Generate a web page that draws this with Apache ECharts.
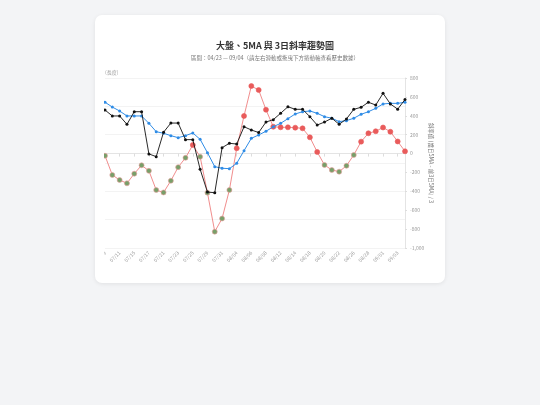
<!DOCTYPE html>
<html><head><meta charset="utf-8">
<script src="https://cdn.jsdelivr.net/npm/echarts@6/dist/echarts.min.js"></script>
<style>
html,body{margin:0;padding:0;width:540px;height:405px;background:#f3f4f6;overflow:hidden;font-family:"Noto Sans CJK TC","Noto Sans",sans-serif;}
#card{position:absolute;left:95px;top:15px;width:350px;height:268px;background:#fff;border-radius:7px;box-shadow:0 1px 4px rgba(0,0,0,0.08);}
#chart{position:absolute;left:104px;top:15px;width:341px;height:268px;}
</style></head><body>
<div id="card"></div>
<div id="chart"></div>
<script>
const dates = ['07/09','07/10','07/11','07/14','07/15','07/16','07/17','07/18','07/21','07/22','07/23','07/24','07/25','07/28','07/29','07/30','07/31','08/01','08/04','08/05','08/06','08/07','08/08','08/11','08/12','08/13','08/14','08/15','08/18','08/19','08/20','08/21','08/22','08/25','08/26','08/27','08/28','08/29','09/01','09/02','09/03','09/04'];
const indexValues = [19740,19320,19320,18730,19620,19620,16640,16450,18170,18820,18820,17650,17650,15560,13950,13900,17080,17390,17340,18560,18330,18150,18890,19060,19510,19970,19790,19790,19270,18680,18890,19160,18730,19110,19790,19930,20290,20090,20920,20170,19800,20480];
const ma5Values = [20290,19950,19670,19320,19320,19320,18800,18210,18100,17930,17790,17930,18120,17670,16730,15740,15630,15600,15980,16870,17740,17980,18240,18560,18800,19130,19460,19620,19670,19510,19270,19160,18920,18990,19160,19440,19620,19860,20170,20210,20210,20290];
const slopeValues = [-23,-227,-280,-315,-213,-124,-183,-386,-412,-288,-144,-45,91,-33,-414,-827,-688,-386,56,398,715,673,464,284,278,278,274,267,172,17,-121,-174,-192,-129,-15,126,215,236,276,231,128,24];
const rightTicks = {min:-1000,max:800,interval:200};

const chart = echarts.init(document.getElementById('chart'));
const slopeData = slopeValues.map(v => ({value:v, itemStyle:{color: v >= 0 ? '#e95b5b' : '#789f69', borderColor: v >= 0 ? '#e95b5b' : '#e9a0a0', borderWidth:0.6}}));
const fontFam = '"Noto Sans CJK TC","Noto Sans",sans-serif';
chart.setOption({
  animation:false,
  textStyle:{fontFamily:fontFam},
  title:[
    {text:'大盤、5MA 與 3日斜率趨勢圖', left:166, top:21, textAlign:'center', textStyle:{fontSize:9, fontWeight:'bold', color:'#333', fontFamily:fontFam}},
    {text:'區間：04/23 — 09/04（請左右滑動或拖曳下方捲動軸查看歷史數據）', left:166, top:35.5, textAlign:'center', textStyle:{fontSize:5.5, fontWeight:'normal', color:'#777', fontFamily:fontFam}}
  ],
  grid:{left:1, right:40, top:63, bottom:35, containLabel:false, outerBoundsMode:'none'},
  xAxis:{
    type:'category', data:dates, boundaryGap:false,
    axisLine:{lineStyle:{color:'#ddd', width:0.8}},
    axisTick:{show:true, interval:1, length:3, lineStyle:{color:'#ddd'}},
    axisLabel:{interval:1, rotate:45, fontSize:5, color:'#999', margin:4}
  },
  yAxis:[
    {type:'value', min:10000, max:22000, interval:2000, name:'(長度)', nameLocation:'end', nameGap:3,
     nameTextStyle:{fontSize:5, color:'#999', align:'left'},
     axisLine:{show:false}, axisTick:{show:false}, axisLabel:{show:false},
     splitLine:{lineStyle:{color:'#f0f0f0', width:0.8}}},
    {type:'value', position:'right', min:rightTicks.min, max:rightTicks.max, interval:rightTicks.interval,
     name:'斜率值 (當日5MA - 前3日5MA) / 3', nameLocation:'middle', nameGap:23, nameRotate:-90, nameMoveOverlap:false,
     nameTextStyle:{fontSize:5.5, color:'#777'},
     axisLine:{show:true, lineStyle:{color:'#ddd', width:0.8}}, axisTick:{show:true, length:2, lineStyle:{color:'#ddd'}},
     axisLabel:{fontSize:5, color:'#999', margin:5, formatter:v => v.toLocaleString('en-US')},
     splitLine:{show:false}}
  ],
  series:[
    {name:'3日斜率', type:'line', yAxisIndex:1, data:slopeData, symbol:'circle', symbolSize:5, showAllSymbol:true,
     lineStyle:{color:'#ee8080', width:0.9}, z:2},
    {name:'5MA', type:'line', yAxisIndex:0, data:ma5Values, symbol:'circle', symbolSize:3, showAllSymbol:true,
     itemStyle:{color:'#2f8ce6'}, lineStyle:{color:'#2f8ce6', width:1}, z:3},
    {name:'大盤', type:'line', yAxisIndex:0, data:indexValues, symbol:'circle', symbolSize:3, showAllSymbol:true,
     itemStyle:{color:'#111'}, lineStyle:{color:'#111', width:0.9}, z:4}
  ]
});
</script>
</body></html>
